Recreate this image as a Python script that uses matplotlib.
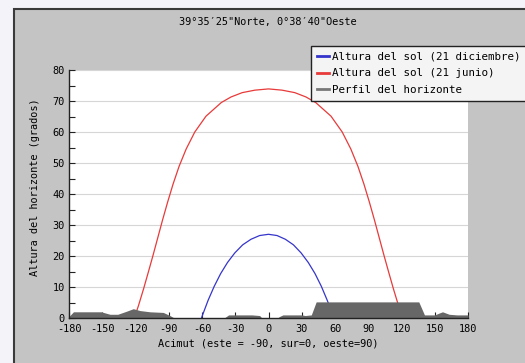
import matplotlib
matplotlib.use("Agg")
import matplotlib.pyplot as plt
from matplotlib.lines import Line2D
from matplotlib.patches import Rectangle

# --- data ---
june_az = [-120.4, -117.3, -112.8, -108.5, -104.2, -99.9, -95.6, -91.0, -86.1, -80.7,
           -74.3, -66.5, -56.4, -42.6, -33.8, -23.7, -12.2, 0.0,
           12.2, 23.7, 33.8, 42.6, 56.4, 66.5, 74.3, 80.7, 86.1, 91.0,
           95.6, 99.9, 104.2, 108.5, 112.8, 117.3, 120.4]
june_alt = [0.7, 4.0, 9.3, 14.7, 20.2, 25.9, 31.6, 37.4, 43.2, 48.9,
            54.5, 60.0, 65.1, 69.5, 71.3, 72.7, 73.5, 73.9,
            73.5, 72.7, 71.3, 69.5, 65.1, 60.0, 54.5, 48.9, 43.2, 37.4,
            31.6, 25.9, 20.2, 14.7, 9.3, 4.0, 0.7]

dec_az = [-60.5, -54.5, -49.0, -43.2, -37.0, -30.4, -23.3, -15.8, -8.0, 0.0,
          7.7, 15.2, 22.5, 29.4, 35.9, 42.0, 47.7, 53.0, 58.0, 58.9]
dec_alt = [0.0, 5.7, 10.2, 14.3, 17.9, 21.0, 23.6, 25.4, 26.6, 27.0,
           26.6, 25.4, 23.6, 21.0, 17.9, 14.3, 10.2, 5.7, 1.0, 0.0]

horizon_az = [-180, -176, -165, -151, -146, -143, -136, -128, -122, -116, -107, -95,
              -89, -85, -40, -36, -30, -15, -8, -6, 8, 10, 13, 30, 33, 38.6, 43,
              135.6, 140.7, 150, 154, 157, 160, 163, 170, 180]
horizon_alt = [0.5, 2.0, 2.0, 2.0, 1.5, 1.2, 1.2, 2.2, 3.0, 2.4, 2.0, 1.8,
               0.8, 0.0, 0.0, 1.0, 1.0, 1.0, 0.8, 0.0, 0.0, 0.5, 1.0, 1.0, 0.8, 1.0, 5.2,
               5.2, 1.0, 1.0, 1.6, 2.0, 1.6, 1.2, 1.0, 1.0]

x_ticks = list(range(-180, 181, 30))
y_ticks = list(range(0, 81, 10))

title = "39°35′25\"Norte, 0°38′40\"Oeste"
legend_labels = ["Altura del sol (21 diciembre)", "Altura del sol (21 junio)",
                 "Perfil del horizonte"]

plt.rcParams["font.family"] = ["DejaVu Sans Mono"]
plt.rcParams["axes.unicode_minus"] = False

W, H = 525, 363
fig = plt.figure(figsize=(W / 100, H / 100), dpi=100)
fig.patch.set_facecolor("#f3f3f9")

# gray panel with dark border (top/left only visible)
panel = Rectangle((14 / W, -0.1), 1.2, (H - 9) / H + 0.1,
                  transform=fig.transFigure, facecolor="#c4c4c4",
                  edgecolor="#3a3a3a", linewidth=1.5, zorder=-5)
fig.patches.append(panel)

ax = fig.add_axes([69 / W, (H - 318) / H, 399 / W, 248 / H])
ax.set_zorder(1)
ax.set_facecolor("white")

for y in y_ticks[1:]:
    ax.axhline(y, color="#d6d6d6", linewidth=0.8, zorder=1)

ax.plot(june_az, june_alt, color="#e83a3a", linewidth=0.9, zorder=2.1)
ax.plot(dec_az, dec_alt, color="#3535cc", linewidth=0.9, zorder=2.1)
ax.fill_between(horizon_az, 0, horizon_alt, color="#676767", linewidth=0, zorder=2.3)

ax.set_xlim(-180, 180)
ax.set_ylim(0, 80)
ax.set_xticks(x_ticks)
ax.set_yticks(y_ticks)
ax.set_yticks(list(range(5, 80, 10)), minor=True)
ax.tick_params(axis="both", direction="in", length=4, width=0.8, color="#222222",
               labelsize=7.4, pad=3)
ax.tick_params(axis="y", which="minor", direction="in", length=4, width=0.8, color="#222222")
ax.tick_params(axis="x", pad=4)
for side in ("top", "right"):
    ax.spines[side].set_visible(False)
for side in ("left", "bottom"):
    ax.spines[side].set_color("#222222")
    ax.spines[side].set_linewidth(1.0)
    ax.spines[side].set_zorder(4)

fig.text(268 / W, 1 - 22 / H, title, ha="center", va="center", fontsize=7.4)
fig.text(268 / W, 1 - 344 / H, "Acimut (este = -90, sur=0, oeste=90)",
         ha="center", va="center", fontsize=7.4)
fig.text(35 / W, 1 - 187 / H, "Altura del horizonte (grados)", rotation=90,
         ha="center", va="center", fontsize=7.4)

handles = [Line2D([], [], color="#3535cc", linewidth=2),
           Line2D([], [], color="#e83a3a", linewidth=2),
           Line2D([], [], color="#777777", linewidth=2)]
leg = fig.legend(handles, legend_labels, loc="upper left",
                 bbox_to_anchor=(311 / W, 1 - 46 / H), bbox_transform=fig.transFigure,
                 fontsize=7.8, frameon=True, fancybox=False, handlelength=1.1,
                 handletextpad=0.3, labelspacing=0.6, borderpad=0.55, borderaxespad=0)
leg.set_zorder(5)
leg.get_frame().set_facecolor("#f4f4f4")
leg.get_frame().set_edgecolor("#222222")
leg.get_frame().set_linewidth(1.0)
leg.get_frame().set_alpha(1)

fig.savefig("out.png", dpi=100)
